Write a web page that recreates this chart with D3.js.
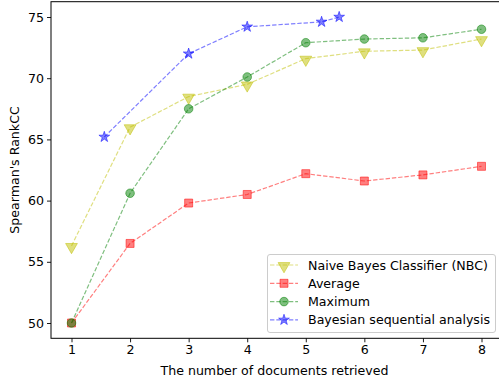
<!DOCTYPE html>
<html><head><meta charset="utf-8">
<script src="https://cdn.jsdelivr.net/npm/d3@7"></script>
<style>body{margin:0;background:#fff}svg{display:block;font-family:"DejaVu Sans",sans-serif}</style>
</head><body>
<script>
const xTicks = [1,2,3,4,5,6,7,8];
const yTicks = [50,55,60,65,70,75];
const xNBC = [1,2,3,4,5,6,7,8];
const yNBC = [56.3,66.0,68.5,69.5,71.6,72.2,72.3,73.2];
const xAvg = [1,2,3,4,5,6,7,8];
const yAvg = [50.0,56.5,59.8,60.5,62.2,61.6,62.1,62.8];
const xMax = [1,2,3,4,5,6,7,8];
const yMax = [50.0,60.6,67.5,70.1,72.9,73.2,73.3,74.0];
const xBSA = [1.56,3,4,5.27,5.57];
const yBSA = [65.2,72.0,74.2,74.6,75.0];
const seriesNames = ["Naive Bayes Classifier (NBC)","Average","Maximum","Bayesian sequential analysis"];

const W=499,H=383,FS=12.6;
const svg=d3.select("body").append("svg").attr("width",W).attr("height",H);
const x=d3.scaleLinear().domain([0.65,8.35]).range([51,502]);
const y=d3.scaleLinear().domain([48.75,76.25]).range([338.3,1.7]);

const series=[
 {name:seriesNames[0],xs:xNBC,ys:yNBC,color:"#bfbf00",marker:"tri"},
 {name:seriesNames[1],xs:xAvg,ys:yAvg,color:"#ff0000",marker:"sq"},
 {name:seriesNames[2],xs:xMax,ys:yMax,color:"#008000",marker:"circ"},
 {name:seriesNames[3],xs:xBSA,ys:yBSA,color:"#0000ff",marker:"star"}
];

function markerPath(type){
  if(type==="tri") return d3.symbol(d3.symbolTriangle,60)();
  if(type==="sq") return d3.symbol(d3.symbolSquare,64)();
  if(type==="circ") return d3.symbol(d3.symbolCircle,58)();
  if(type==="star") return d3.symbol(d3.symbolStar,36)();
}
function drawMarker(g,type,cx,cy,color){
  g.append("path").attr("d",markerPath(type))
   .attr("transform",`translate(${cx},${cy})`+(type==="tri"?" rotate(180) translate(0,-1)":""))
   .attr("fill",color).attr("fill-opacity",0.5).attr("stroke",color).attr("stroke-opacity",0.5).attr("stroke-width",1);
}

const plot=svg.append("g");
const line=d3.line().x(d=>x(d[0])).y(d=>y(d[1]));
series.forEach(s=>{
  const pts=s.xs.map((v,i)=>[v,s.ys[i]]);
  plot.append("path").attr("d",line(pts)).attr("fill","none").attr("stroke",s.color)
    .attr("stroke-opacity",0.5).attr("stroke-width",1.2).attr("stroke-dasharray","4.4,1.9");
  pts.forEach(p=>drawMarker(plot,s.marker,x(p[0]),y(p[1]),s.color));
});

// axes
const xAxis=svg.append("g").attr("transform","translate(0,338.3)")
  .call(d3.axisBottom(x).tickValues(xTicks).tickFormat(d3.format("d")).tickSize(4).tickSizeOuter(0));
const yAxis=svg.append("g").attr("transform","translate(51,0)")
  .call(d3.axisLeft(y).tickValues(yTicks).tickFormat(d3.format("d")).tickSize(4).tickSizeOuter(0));
[xAxis,yAxis].forEach(a=>{
  a.selectAll("text").attr("font-size",FS).attr("fill","#000").attr("font-family","DejaVu Sans");
  a.selectAll("line").attr("stroke","#000").attr("stroke-width",0.9);
  a.select(".domain").remove();
});
xAxis.selectAll("text").attr("dy","0.71em").attr("y",7);
yAxis.selectAll("text").attr("x",-7);
// spines
svg.append("rect").attr("x",51).attr("y",1.7).attr("width",451).attr("height",336.6)
  .attr("fill","none").attr("stroke","#000").attr("stroke-width",1);

svg.append("text").attr("x",(51+498)/2).attr("y",375).attr("text-anchor","middle")
  .attr("font-size",FS).text("The number of documents retrieved");
svg.append("text").attr("transform","translate(19,170) rotate(-90)").attr("text-anchor","middle")
  .attr("font-size",FS).text("Spearman's RankCC");

// legend
const lg=svg.append("g");
lg.append("rect").attr("x",267.5).attr("y",254.5).attr("width",228).attr("height",78).attr("rx",2.5)
  .attr("fill","#fff").attr("fill-opacity",0.8).attr("stroke","#ccc").attr("stroke-width",1);
series.forEach((s,i)=>{
  const cy=265+i*18.3;
  lg.append("line").attr("x1",270).attr("x2",298).attr("y1",cy).attr("y2",cy)
    .attr("stroke",s.color).attr("stroke-opacity",0.5).attr("stroke-width",1.2).attr("stroke-dasharray","4.4,1.9");
  drawMarker(lg,s.marker,284,cy,s.color);
  lg.append("text").attr("x",308).attr("y",cy).attr("dy","0.36em").attr("font-size",FS).text(s.name);
});
</script>
</body></html>
